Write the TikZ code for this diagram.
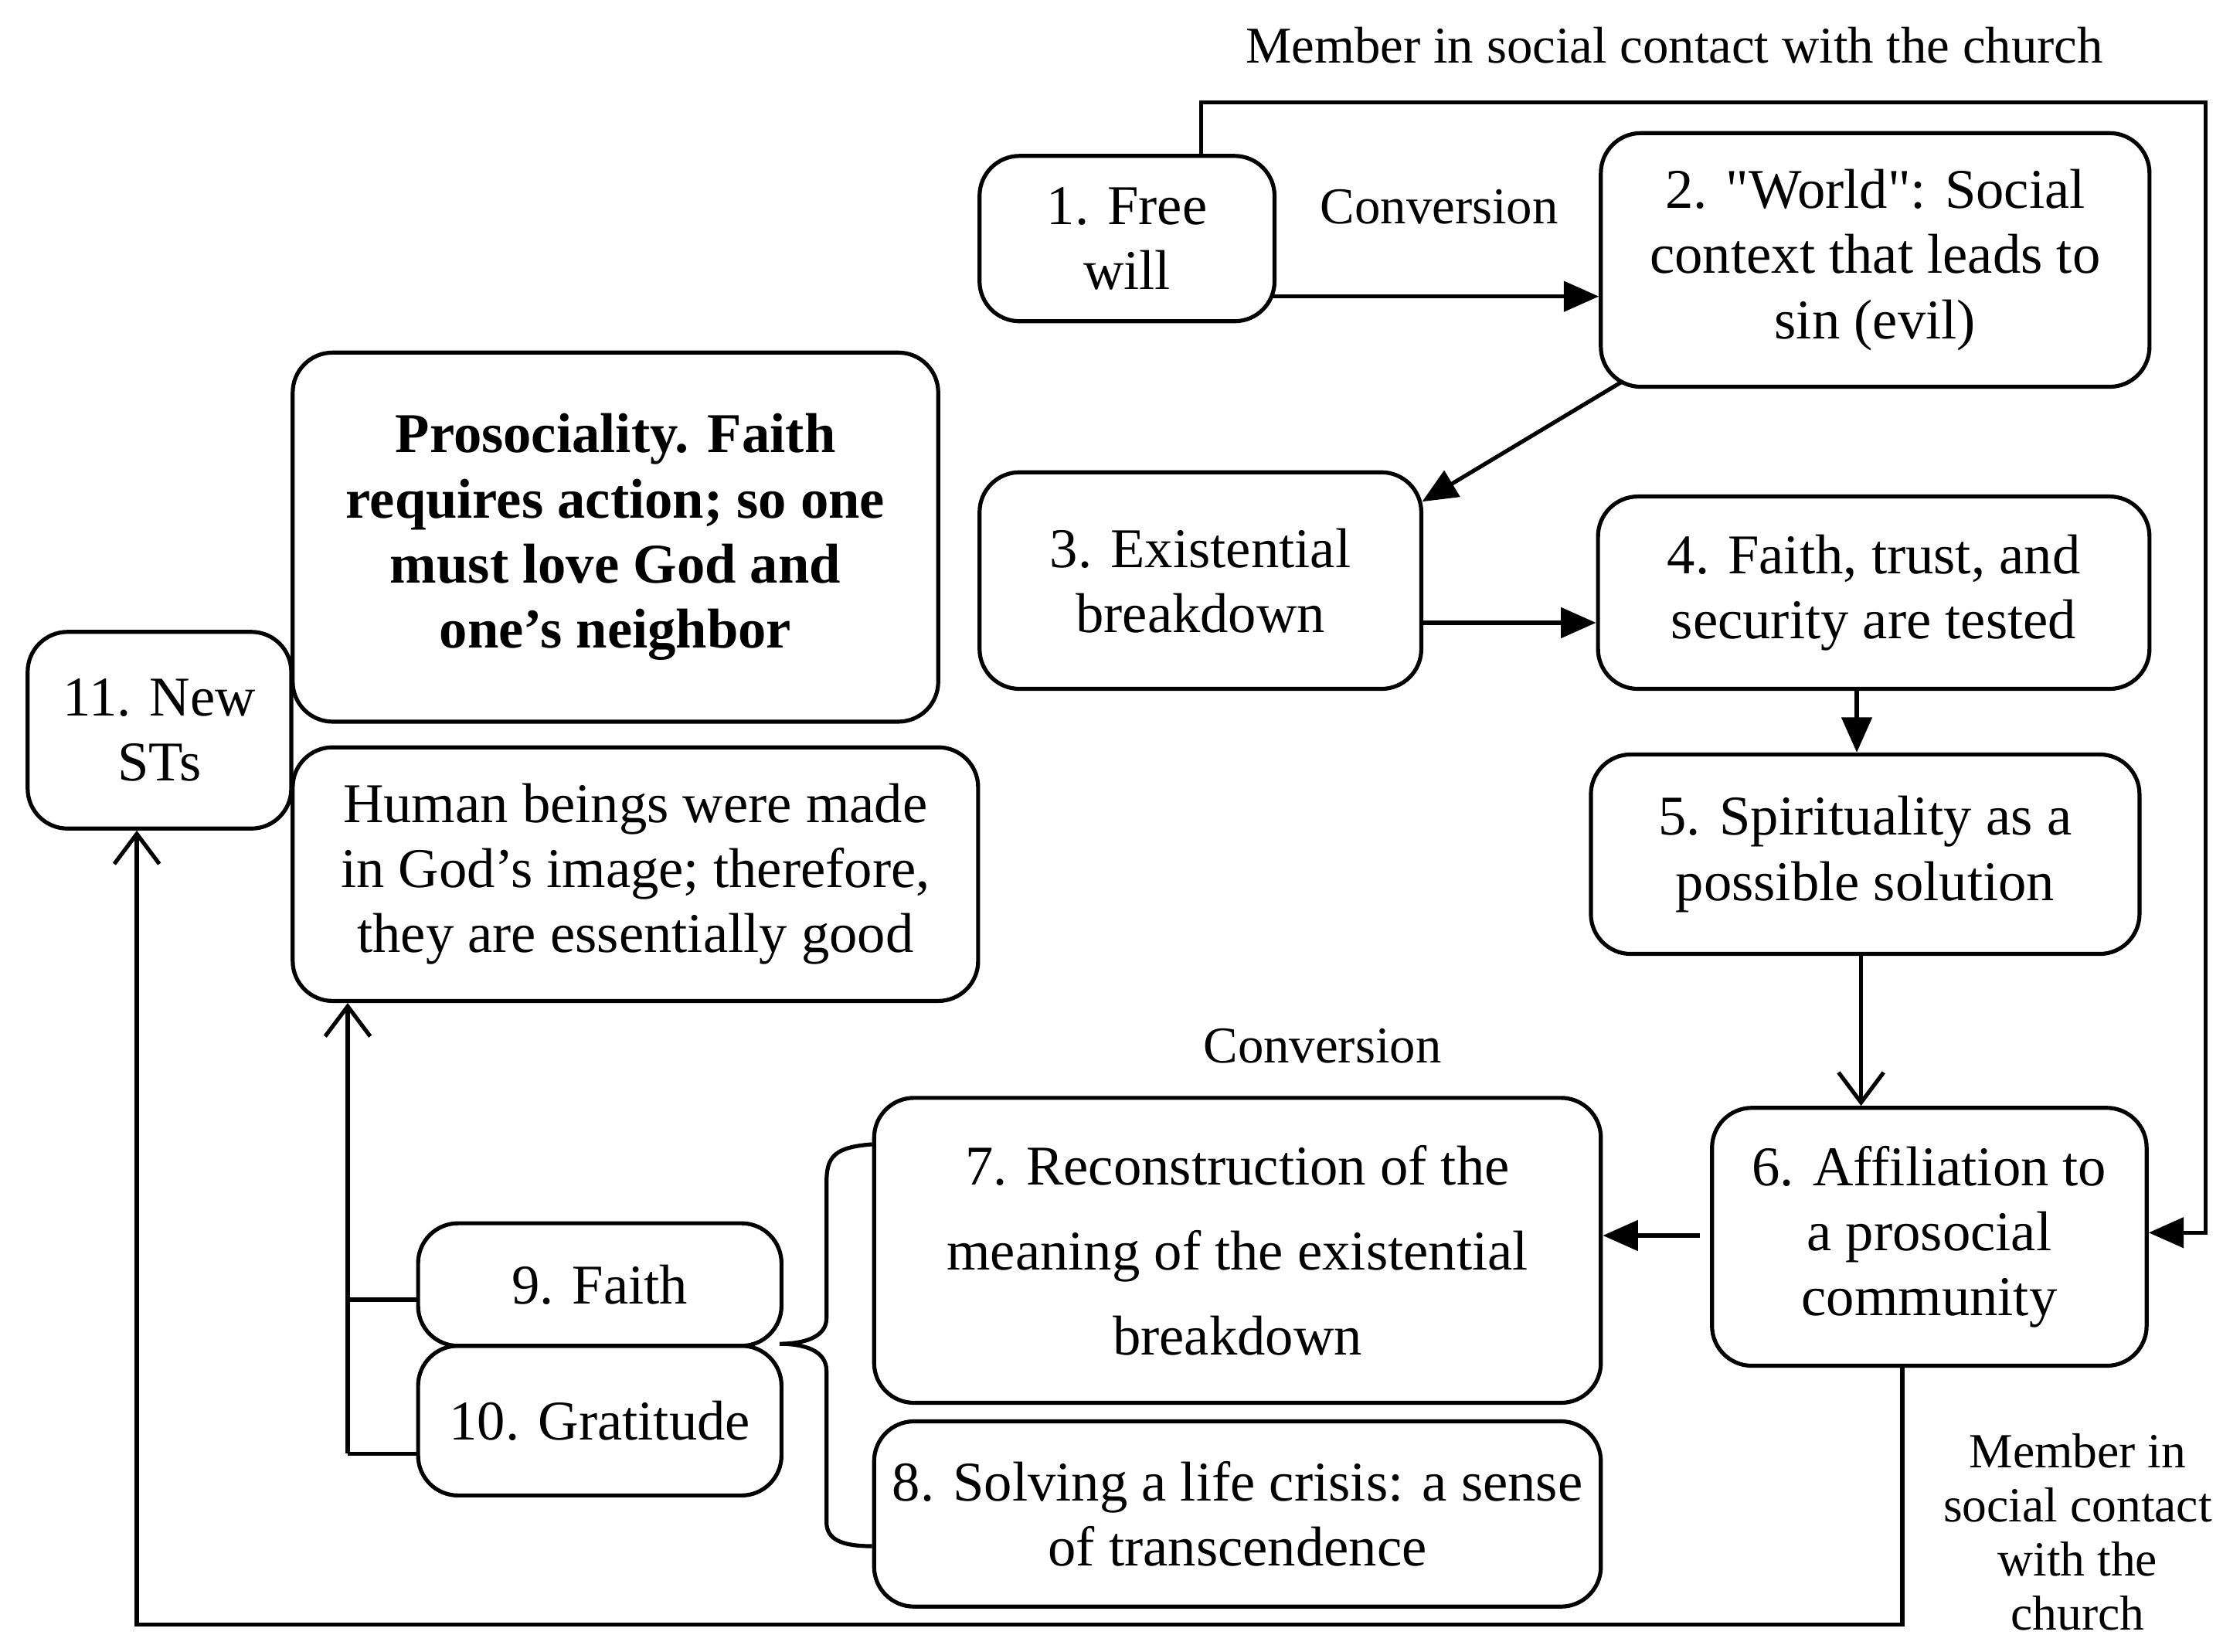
\documentclass[tikz,border=0pt]{standalone}
\usepackage{fontspec}
\setmainfont{Liberation Serif}
\usetikzlibrary{arrows.meta}
\begin{document}
\begin{tikzpicture}[x=0.01cm,y=-0.01cm,
  box/.style={draw,line width=0.8pt,rounded corners=0.28cm,align=center,inner sep=1pt,font=\fontsize{11.2}{13}\selectfont},
  ln/.style={line width=0.8pt},
  fa/.style={ln,-{Triangle[length=7pt,width=6pt]}},
  oa/.style={ln,-{Straight Barb[length=6pt,width=9pt]}},
  lab/.style={font=\fontsize{10.3}{11.2}\selectfont,align=center}]
\useasboundingbox (0,0) rectangle (1560,1159);
\def\bx#1#2#3#4#5#6{\node[box,minimum width={(#4-#2)*0.01cm},minimum height={(#5-#3)*0.01cm},anchor=north west] (#1) at (#2,#3) {#6};}
\bx{n1}{686}{108}{893}{224}{1. Free\\will}
\bx{n2}{1122}{92}{1507}{270}{2. \textquotedbl World\textquotedbl: Social\\context that leads to\\sin (evil)}
\bx{n3}{686}{330}{996}{482}{3. Existential\\breakdown}
\bx{n4}{1120}{347}{1507}{482}{4. Faith, trust, and\\security are tested}
\bx{n5}{1115}{528}{1500}{668}{5. Spirituality as a\\possible solution}
\bx{n6}{1200}{776}{1505}{957}{6. Affiliation to\\a prosocial\\community}
\bx{n7}{612}{769}{1122}{983}{7. Reconstruction of the\\[4pt]meaning of the existential\\[4pt]breakdown}
\bx{n8}{612}{996}{1122}{1126}{8. Solving a life crisis: a sense\\of transcendence}
\bx{n9}{292}{857}{547}{943}{9. Faith}
\bx{n10}{292}{943}{547}{1048}{10. Gratitude}
\bx{n11}{18}{442}{203}{580}{11. New\\STs}
\bx{nb}{204}{246}{657}{505}{\bfseries Prosociality. Faith\\\bfseries requires action; so one\\\bfseries must love God and\\\bfseries one's neighbor}
\bx{nh}{204}{523}{685}{701}{Human beings were made\\in God's image; therefore,\\they are essentially good}
\node[lab] (t1) at (1175,32) {Member in social contact with the church};
\node[lab] (t2) at (1010,145) {Conversion};
\node[lab] (t3) at (928,734) {Conversion};
\node[lab,font=\fontsize{9.8}{10.8}\selectfont] (t4) at (1458,1075) {Member in\\social contact\\with the\\church};
\coordinate (c1) at (843,72); \coordinate (c2) at (1548,72); \coordinate (c3) at (1548,865);
\draw[fa] (n1.north -| c1) -- (c1) -- (c2) -- (c3) -- (n6.east |- c3);
\draw[fa] (893,208) -- (n2.west |- 0,208);
\draw[fa] (1138,268) -- (998,352);
\draw[fa] (996,437) -- (n4.west |- 0,437);
\draw[fa] (1303,482) -- (n5.north -| 1303,0);
\draw[oa] (1306,668) -- (n6.north -| 1306,0);
\draw[fa] (1193,867) -- (n7.east |- 0,867);
\coordinate (d1) at (1335,1140); \coordinate (d2) at (96,1140);
\draw[oa] (n6.south -| 1335,0) -- (d1) -- (d2) -- (n11.south -| d2);
\coordinate (e1) at (244,1020); \coordinate (e2) at (244,912);
\draw[oa] (e1) -- (nh.south -| e1);
\draw[ln] (e2) -- (n9.west |- e2);
\draw[ln] (e1) -- (n10.west |- e1);
\draw[ln] (612,803) .. controls (585,805) and (580,812) .. (580,830) -- (580,925) .. controls (580,938) and (565,943) .. (547,943)
  .. controls (565,943) and (580,948) .. (580,962) -- (580,1068) .. controls (580,1080) and (590,1085) .. (612,1085);
\end{tikzpicture}
\end{document}
